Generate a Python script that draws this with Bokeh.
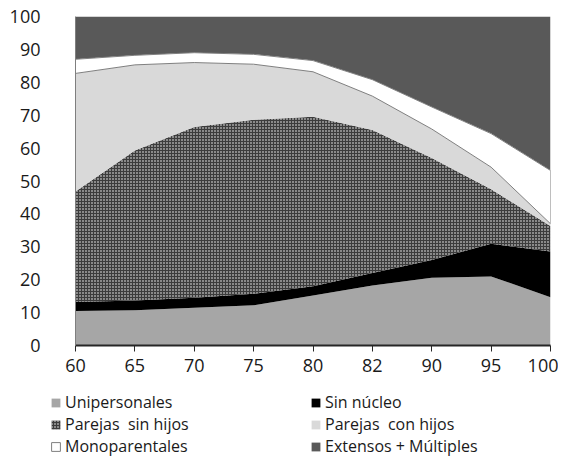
import numpy as np
from bokeh.plotting import figure
from bokeh.layouts import column
from bokeh.models import Legend, LegendItem, FixedTicker
from bokeh.embed import file_html
from bokeh.resources import INLINE

years = ["60", "65", "70", "75", "80", "82", "90", "95", "100"]
unipersonales = [10.5, 10.7, 11.5, 12.2, 15.2, 18.2, 20.6, 21.0, 14.7]
sin_nucleo = [2.7, 3.0, 3.0, 3.5, 2.8, 3.8, 5.4, 9.9, 13.9]
parejas_sin_hijos = [33.6, 45.6, 51.9, 52.9, 51.5, 43.5, 31.0, 16.6, 7.7]
parejas_con_hijos = [35.9, 26.0, 19.6, 16.9, 13.7, 10.3, 8.8, 6.7, 0.7]
monoparentales = [4.3, 2.9, 3.0, 3.0, 3.4, 5.0, 6.7, 10.2, 16.2]
extensos = [13.0, 11.8, 11.0, 11.5, 13.4, 19.2, 27.5, 35.6, 46.8]
labels = ["Unipersonales", "Parejas  sin hijos", "Monoparentales",
          "Sin núcleo", "Parejas  con hijos", "Extensos + Múltiples"]

FONT = "Open Sans"
x = list(range(len(years)))
c1 = np.array(unipersonales)
c2 = c1 + np.array(sin_nucleo)
c3 = c2 + np.array(parejas_sin_hijos)
c4 = c3 + np.array(parejas_con_hijos)
c5 = c4 + np.array(monoparentales)
c6 = c5 + np.array(extensos)

STY = {
    "uni": dict(fill_color="#a6a6a6"),
    "sin": dict(fill_color="#000000"),
    "psh": dict(fill_color="#3c3c3c", hatch_pattern=".", hatch_color="white",
                hatch_scale=3, hatch_weight=1.8),
    "pch": dict(fill_color="#d9d9d9"),
    "mono": dict(fill_color="white", line_color="#7f7f7f", line_width=1),
    "ext": dict(fill_color="#595959"),
}

p = figure(width=558, height=380, output_backend="svg", toolbar_location=None,
           x_range=(0, len(years) - 1), y_range=(0, 100),
           min_border_left=75, min_border_right=8, min_border_top=16,
           min_border_bottom=35)
p.grid.visible = False
p.outline_line_color = None

zero = np.zeros(len(x))
p.varea(x=x, y1=zero, y2=c1, **STY["uni"])
p.varea(x=x, y1=c1, y2=c2, **STY["sin"])
p.varea(x=x, y1=c2, y2=c3, **STY["psh"])
p.varea(x=x, y1=c3, y2=c4, **STY["pch"])
p.varea(x=x, y1=c5, y2=c6, **STY["ext"])
px = x + x[::-1]
py = list(c5) + list(c4[::-1])
p.patch(x=px, y=py, **STY["mono"])

# axes
p.xaxis.ticker = FixedTicker(ticks=x)
p.xaxis.major_label_overrides = {i: y for i, y in enumerate(years)}
p.xaxis.axis_line_color = "#262626"
p.xaxis.axis_line_width = 2
p.xaxis.major_tick_line_color = "#262626"
p.xaxis.major_tick_out = 6
p.xaxis.major_tick_in = 0
p.xaxis.minor_tick_line_color = None
p.xaxis.major_label_standoff = 7
p.yaxis.ticker = FixedTicker(ticks=list(range(0, 101, 10)))
p.yaxis.axis_line_color = "#7f7f7f"
p.yaxis.major_tick_line_color = None
p.yaxis.major_tick_out = 0
p.yaxis.major_tick_in = 0
p.yaxis.minor_tick_line_color = None
p.yaxis.major_label_standoff = 35
for ax in (p.xaxis[0], p.yaxis[0]):
    ax.major_label_text_font = FONT
    ax.major_label_text_font_size = "18px"
    ax.major_label_text_color = "#1a1a1a"

# legend in its own strip below the chart
q = figure(width=558, height=84, output_backend="svg", toolbar_location=None,
           x_range=(0, 1), y_range=(0, 1), min_border=0)
q.axis.visible = False
q.grid.visible = False
q.outline_line_color = None
LX = -25
try:
    q.frame_align = False
    LX = 50
except Exception:
    pass
keys = ["uni", "psh", "mono", "sin", "pch", "ext"]
items = []
for k, lab in zip(keys, labels):
    sty = dict(line_color=None)
    sty.update(STY[k])
    r = q.patch(x=[5, 6, 6], y=[5, 5, 6], **sty)
    items.append(LegendItem(label=lab, renderers=[r]))
leg = Legend(items=items, ncols=2, location=(LX, 7),
             label_text_font=FONT, label_text_font_size="16px",
             label_text_color="#1a1a1a",
             glyph_width=11, glyph_height=11, label_standoff=4,
             label_width=245, spacing=0, padding=0, margin=0,
             border_line_color=None, background_fill_alpha=0,
             label_height=17)
q.add_layout(leg)

open("out.html", "w").write(file_html(column(p, q, spacing=0), INLINE))
